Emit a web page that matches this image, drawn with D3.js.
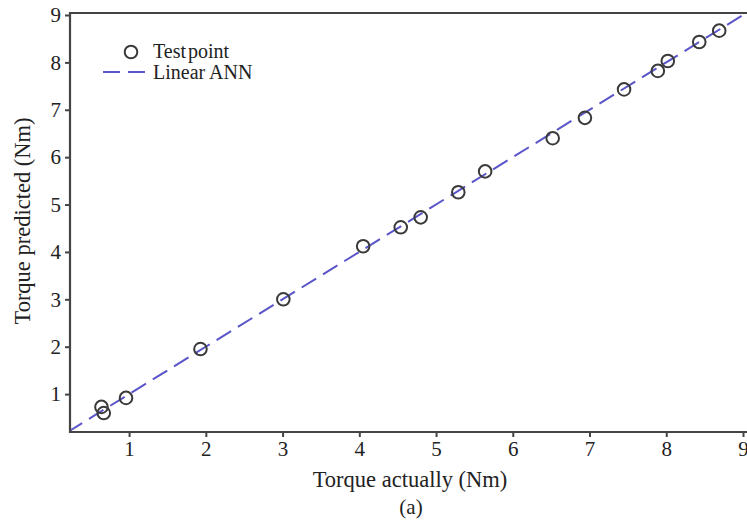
<!DOCTYPE html>
<html>
<head>
<meta charset="utf-8">
<script src="https://cdn.jsdelivr.net/npm/d3@7"></script>
<style>
  body { margin: 0; background: #fff; }
  text { font-family: "Liberation Serif", "Times New Roman", serif; fill: #222; }
</style>
</head>
<body>
<div id="chart"></div>
<script>
// test points
var actual = [0.64, 0.67, 0.96, 1.93, 3.01, 4.05, 4.54, 4.80, 5.29, 5.64, 6.52, 6.94, 7.45, 7.89, 8.02, 8.43, 8.69];
var predicted = [0.73, 0.60, 0.92, 1.95, 3.00, 4.12, 4.52, 4.73, 5.26, 5.70, 6.40, 6.83, 7.43, 7.82, 8.03, 8.43, 8.67];
var xTicks = [1, 2, 3, 4, 5, 6, 7, 8, 9];
var yTicks = [1, 2, 3, 4, 5, 6, 7, 8, 9];
var fitLine = [0.2, 9.2]; // Linear ANN: predicted = actual

var width = 747, height = 524;

var svg = d3.select("#chart")
    .append("svg")
    .attr("width", width)
    .attr("height", height);

var x = d3.scaleLinear().domain([0.23, 9]).range([70, 743]);
var y = d3.scaleLinear().domain([0.2, 9]).range([432, 15]);

var plotTop = 13, plotBottom = 432, plotLeft = 70, plotRight = 760;

svg.append("clipPath").attr("id", "clip")
    .append("rect")
    .attr("x", plotLeft).attr("y", plotTop)
    .attr("width", plotRight - plotLeft).attr("height", plotBottom - plotTop);

// dashed fit line
var line = d3.line()
    .x(function(d) { return x(d); })
    .y(function(d) { return y(d); });

svg.append("path")
    .datum(fitLine)
    .attr("clip-path", "url(#clip)")
    .attr("d", line)
    .attr("fill", "none")
    .attr("stroke", "#5a55c8")
    .attr("stroke-width", 2)
    .attr("stroke-dasharray", "17,8");

// test points
var pts = actual.map(function(d, i) { return { x: d, y: predicted[i] }; });
svg.selectAll(".pt")
    .data(pts)
    .enter()
    .append("circle")
    .attr("class", "pt")
    .attr("cx", function(d) { return x(d.x); })
    .attr("cy", function(d) { return y(d.y); })
    .attr("r", 6.3)
    .attr("fill", "none")
    .attr("stroke", "#3a3a3a")
    .attr("stroke-width", 2);

// axes
var xAxis = d3.axisBottom(x).tickValues(xTicks).tickSize(5).tickPadding(4).tickFormat(d3.format("d"));
var yAxis = d3.axisLeft(y).tickValues(yTicks).tickSize(5).tickPadding(4).tickFormat(d3.format("d"));

var gx = svg.append("g")
    .attr("transform", "translate(0," + plotBottom + ")")
    .call(xAxis);
var gy = svg.append("g")
    .attr("transform", "translate(" + plotLeft + ",0)")
    .call(yAxis);

[gx, gy].forEach(function(g) {
    g.select(".domain").remove();
    g.selectAll(".tick line").attr("stroke", "#444").attr("stroke-width", 2);
    g.selectAll(".tick text")
        .style("font-family", "'Liberation Serif', serif")
        .style("font-size", "21px")
        .attr("fill", "#222");
});

// frame: left, bottom, top
svg.append("path")
    .attr("d", "M" + plotRight + "," + plotTop + "H" + plotLeft + "V" + plotBottom + "H" + plotRight)
    .attr("fill", "none")
    .attr("stroke", "#444")
    .attr("stroke-width", 2.2);

// axis titles
svg.append("text")
    .attr("x", 410)
    .attr("y", 487)
    .attr("text-anchor", "middle")
    .style("font-size", "22.5px")
    .text("Torque actually (Nm)");

svg.append("text")
    .attr("x", 411)
    .attr("y", 514)
    .attr("text-anchor", "middle")
    .style("font-size", "21px")
    .text("(a)");

svg.append("text")
    .attr("transform", "translate(30,221) rotate(-90)")
    .attr("text-anchor", "middle")
    .style("font-size", "22.5px")
    .text("Torque predicted (Nm)");

// legend
var legend = svg.append("g");
legend.append("circle")
    .attr("cx", 131).attr("cy", 52).attr("r", 6.3)
    .attr("fill", "none").attr("stroke", "#3a3a3a").attr("stroke-width", 2);
legend.append("text")
    .attr("x", 153).attr("y", 58)
    .style("font-size", "20px")
    .style("word-spacing", "-3px")
    .text("Test point");
legend.append("line")
    .attr("x1", 103).attr("x2", 151).attr("y1", 72).attr("y2", 72)
    .attr("stroke", "#5a55c8").attr("stroke-width", 2)
    .attr("stroke-dasharray", "17,8");
legend.append("text")
    .attr("x", 153).attr("y", 79)
    .style("font-size", "20px")
    .text("Linear ANN");
</script>
</body>
</html>
